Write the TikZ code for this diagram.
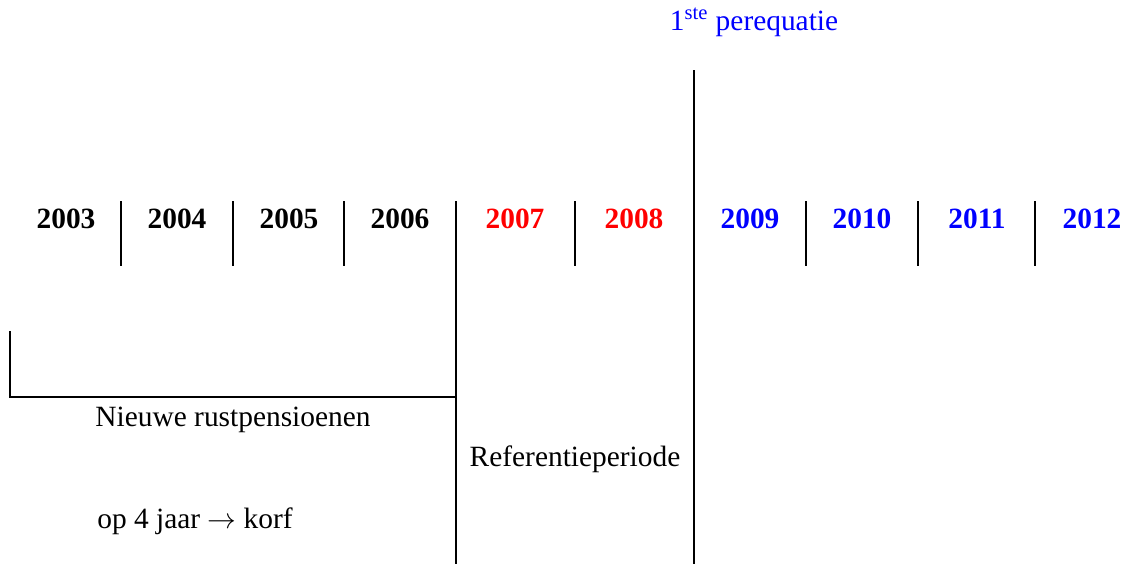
\documentclass[tikz,border=0pt]{standalone}
\usepackage{fontspec}
\setmainfont{Liberation Serif}
\usepackage{xcolor}
\usetikzlibrary{positioning}

\begin{document}
\begin{tikzpicture}[x=0.5pt,y=-0.5pt,line width=1pt]
    \tikzstyle{label}=[anchor=base,inner sep=0pt,font=\fontsize{14.7}{17}\selectfont]
    \tikzstyle{year}=[label,font=\fontsize{14.7}{17}\selectfont\bfseries]
    \tikzstyle{oud}=[year,text=black]
    \tikzstyle{ref}=[year,text=red]
    \tikzstyle{nieuw}=[year,text=blue]

    \useasboundingbox (0,0) rectangle (1142,564);

    \node[label,text=blue] (pereq) at (754,30) {1\textsuperscript{ste} perequatie};

    \node[oud] (y2003) at (66,228) {2003};
    \node[oud] (y2004) at (177,228) {2004};
    \node[oud] (y2005) at (289,228) {2005};
    \node[oud] (y2006) at (400,228) {2006};
    \node[ref] (y2007) at (515,228) {2007};
    \node[ref] (y2008) at (634,228) {2008};
    \node[nieuw] (y2009) at (750,228) {2009};
    \node[nieuw] (y2010) at (862,228) {2010};
    \node[nieuw] (y2011) at (977,228) {2011};
    \node[nieuw] (y2012) at (1092,228) {2012};

    % korte streepjes tussen de jaren
    \foreach \x in {121,233,344,575,806,918,1035}
        \draw (\x,201) -- (\x,266);

    % lange lijnen
    \coordinate (refstart) at (456,201);
    \coordinate (refend) at (456,564);
    \coordinate (pertop) at (694,70);
    \coordinate (perend) at (694,564);
    \draw (refstart) -- (refend);
    \draw (pertop) -- (perend);

    \coordinate (korftop) at (10,331);
    \coordinate (korfhoek) at (10,397);
    \coordinate (korfend) at (456,397);
    \draw (korftop) -- (korfhoek) -- (korfend);

    \node[label] (nieuwe) at (233,426) {Nieuwe rustpensioenen};
    \node[label] (refper) at (575,466) {Referentieperiode};
    \node[label] (korf) at (195,528) {op 4 jaar \(\rightarrow\) korf};
\end{tikzpicture}
\end{document}
